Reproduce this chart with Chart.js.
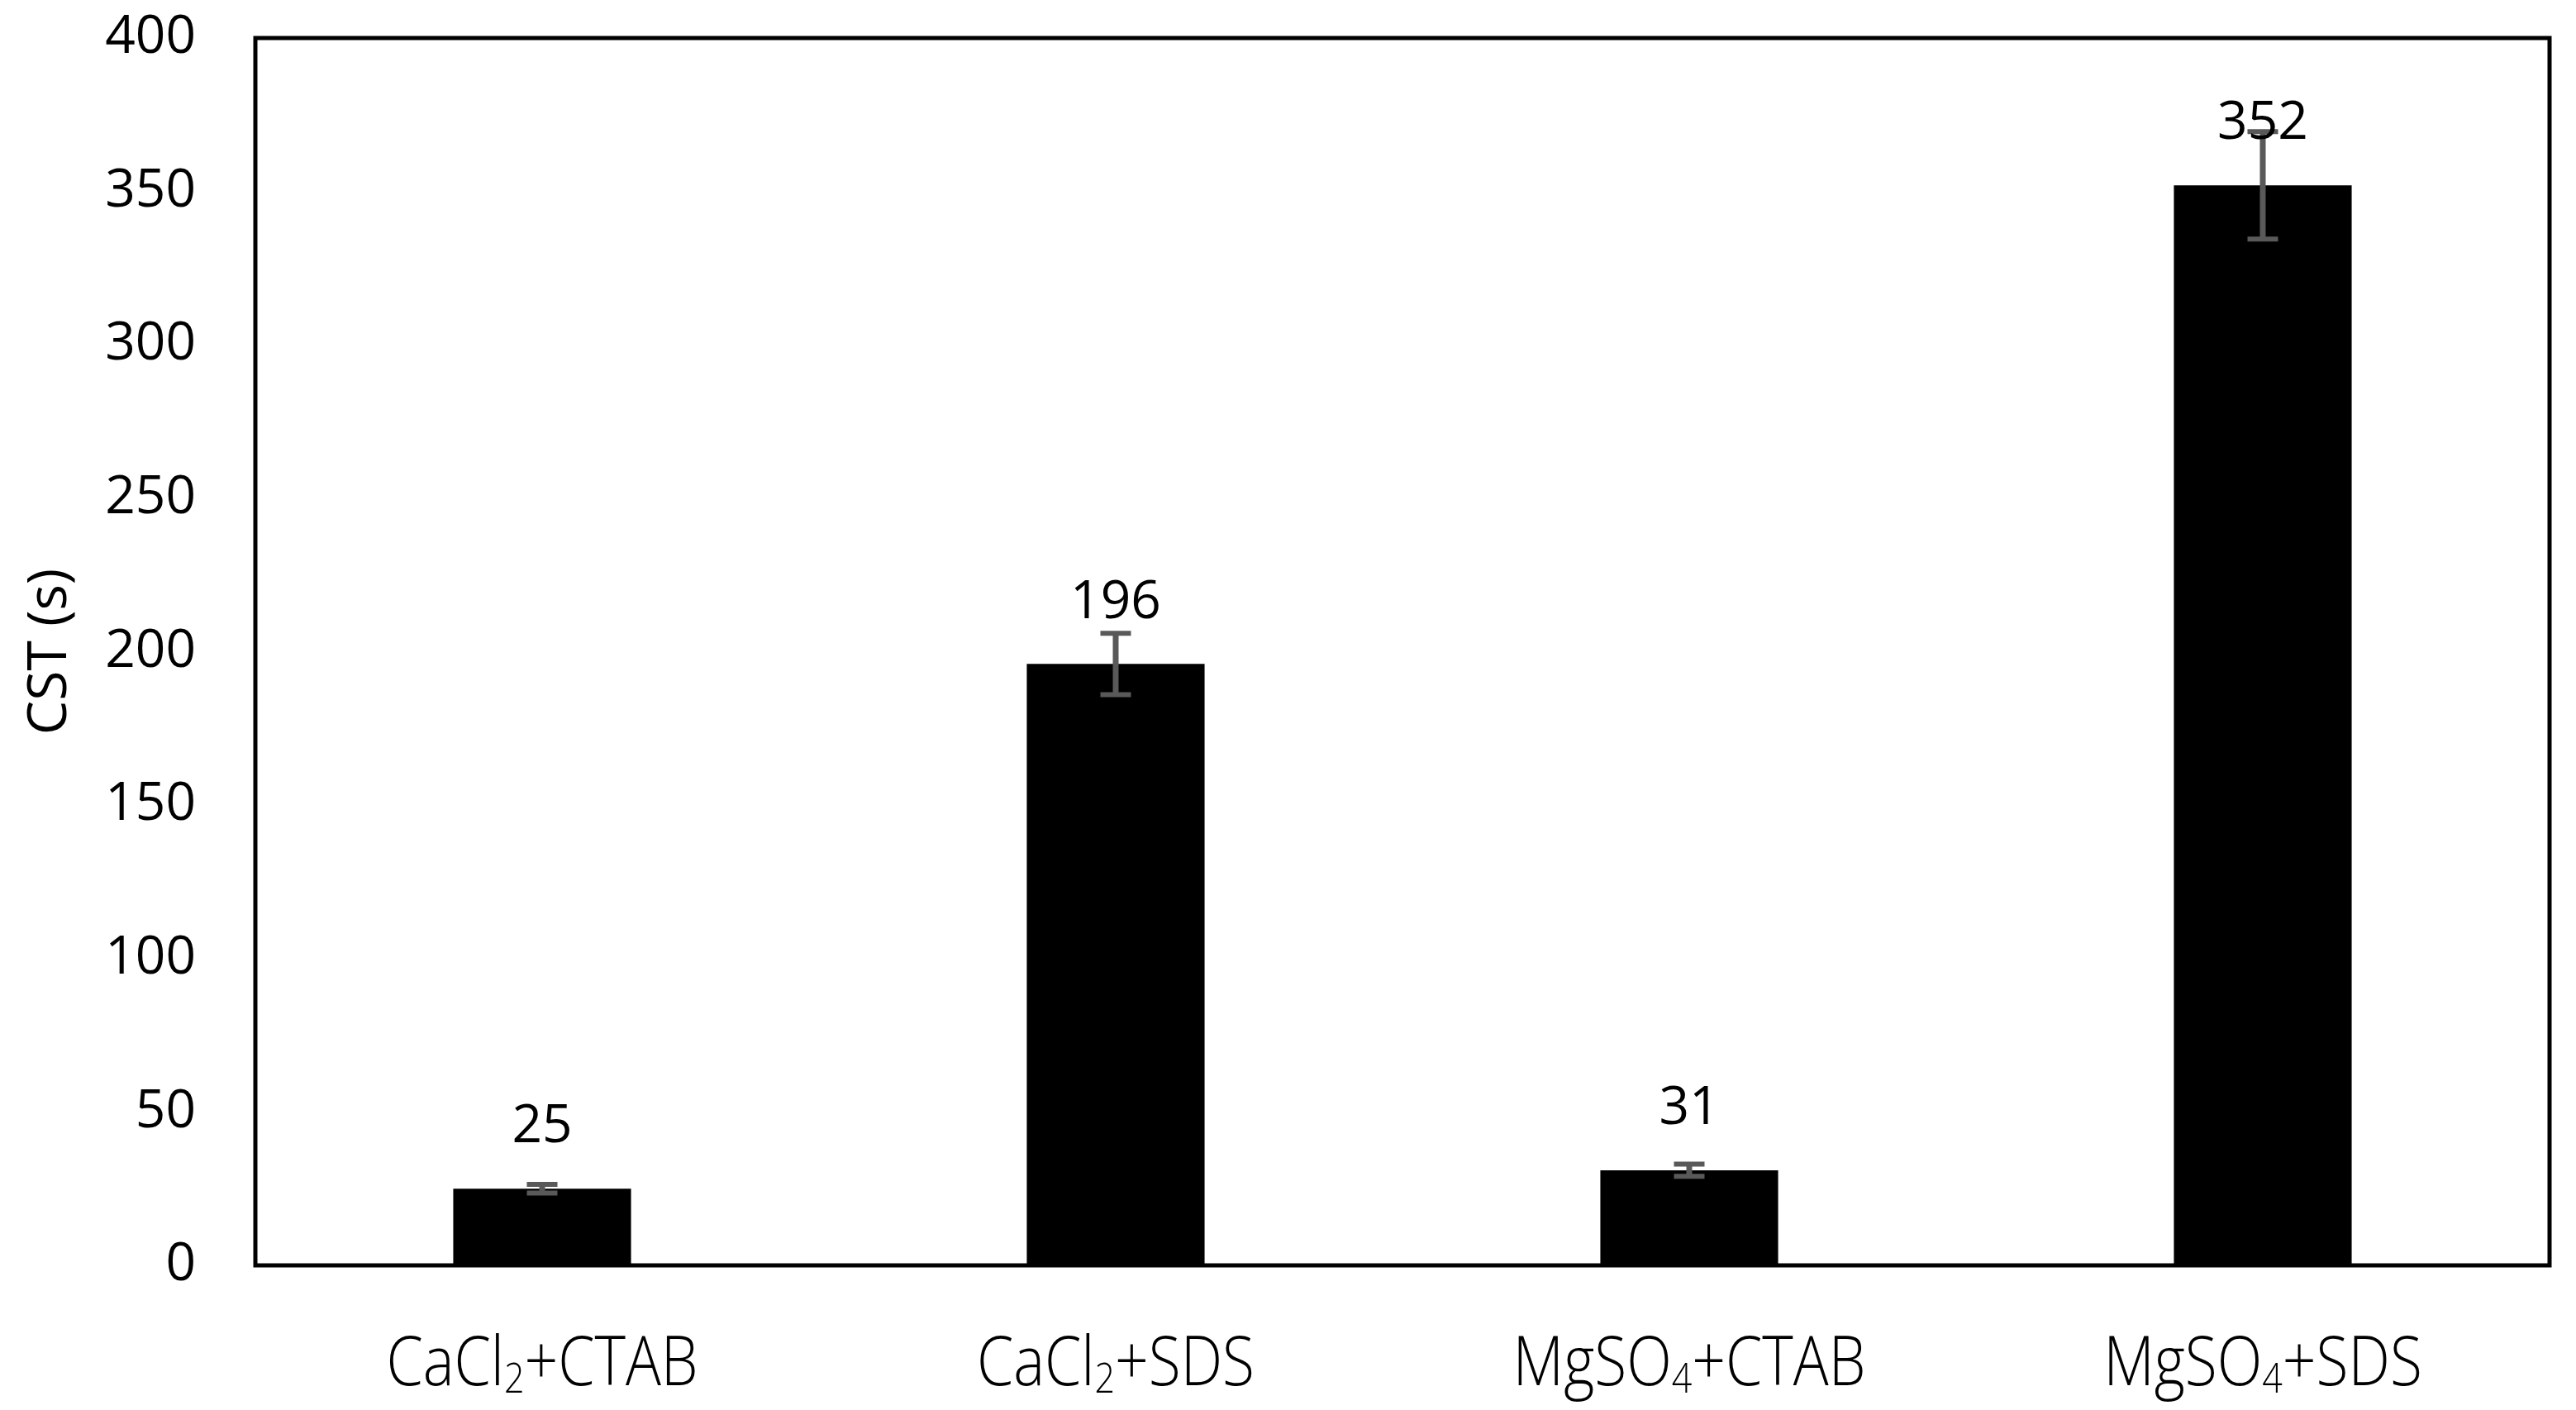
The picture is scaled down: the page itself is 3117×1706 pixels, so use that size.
<!DOCTYPE html>
<html>
<head>
<meta charset="utf-8">
<script src="https://cdn.jsdelivr.net/npm/chart.js@4.4.1/dist/chart.umd.min.js"></script>
<style>
  html, body { margin: 0; padding: 0; background: #ffffff; }
  #wrap { width: 3117px; height: 1706px; position: relative; }
</style>
</head>
<body>
<div id="wrap"><canvas id="c" width="3117" height="1706"></canvas></div>
<script>
const categories = ["CaCl\u2082+CTAB", "CaCl\u2082+SDS", "MgSO\u2084+CTAB", "MgSO\u2084+SDS"];
// label pieces: [base, subscript, rest]
const categoryParts = [["CaCl", "2", "+CTAB"], ["CaCl", "2", "+SDS"], ["MgSO", "4", "+CTAB"], ["MgSO", "4", "+SDS"]];
const cstValues = [25, 196, 31, 352];
const cstErrors = [1.4, 10, 2, 17.5];
const valueLabels = ["25", "196", "31", "352"];
const yTicks = [0, 50, 100, 150, 200, 250, 300, 350, 400];

const numFont = "'Open Sans', 'Noto Sans', sans-serif";
const catFamily = "'Open Sans', 'Noto Sans', sans-serif";

const errorBarPlugin = {
  id: 'errorBars',
  afterDatasetsDraw(chart) {
    const ctx = chart.ctx;
    const meta = chart.getDatasetMeta(0);
    const y = chart.scales.y;
    const xs = chart.scales.x;
    const a = chart.chartArea;
    ctx.save();
    // error bars
    ctx.strokeStyle = '#595959';
    meta.data.forEach((bar, i) => {
      const v = cstValues[i], e = cstErrors[i];
      const yTop = y.getPixelForValue(v + e);
      const yBot = y.getPixelForValue(v - e);
      const x = bar.x;
      const cap = 18.5;
      ctx.lineWidth = 7;
      ctx.beginPath();
      ctx.moveTo(x, yTop); ctx.lineTo(x, yBot);
      ctx.stroke();
      ctx.lineWidth = 6;
      ctx.beginPath();
      ctx.moveTo(x - cap, yTop); ctx.lineTo(x + cap, yTop);
      ctx.moveTo(x - cap, yBot); ctx.lineTo(x + cap, yBot);
      ctx.stroke();
    });
    // value labels
    ctx.fillStyle = '#000000';
    ctx.font = "64px " + numFont;
    ctx.textAlign = 'center';
    ctx.textBaseline = 'middle';
    meta.data.forEach((bar, i) => {
      ctx.fillText(valueLabels[i], bar.x, bar.y - 74);
    });
    // frame
    ctx.strokeStyle = '#000000';
    ctx.lineWidth = 5;
    ctx.strokeRect(a.left, a.top, a.right - a.left, a.bottom - a.top);
    // category labels (condensed, with subscripts)
    const mainSize = 83, subSize = 50;
    const mainFont = "300 " + mainSize + "px " + catFamily;
    const subFont = "300 " + subSize + "px " + catFamily;
    ctx.textAlign = 'left';
    ctx.textBaseline = 'alphabetic';
    categoryParts.forEach((parts, i) => {
      const cx = xs.getPixelForValue(i);
      const baseY = a.bottom + 145;
      ctx.font = mainFont;
      const w0 = ctx.measureText(parts[0]).width;
      const w2 = ctx.measureText(parts[2]).width;
      ctx.font = subFont;
      const w1 = ctx.measureText(parts[1]).width;
      const total = w0 + w1 + w2;
      ctx.save();
      ctx.translate(cx, baseY);
      ctx.scale(0.86, 1);
      let x = -total / 2;
      ctx.font = mainFont;
      ctx.fillText(parts[0], x, 0);
      x += w0;
      ctx.font = subFont;
      ctx.fillText(parts[1], x, 9);
      x += w1;
      ctx.font = mainFont;
      ctx.fillText(parts[2], x, 0);
      ctx.restore();
    });
    ctx.restore();
  }
};

new Chart(document.getElementById('c'), {
  type: 'bar',
  data: {
    labels: categories,
    datasets: [{
      label: 'CST (s)',
      data: cstValues,
      backgroundColor: '#000000',
      borderWidth: 0,
      barPercentage: 0.31,
      categoryPercentage: 1.0
    }]
  },
  options: {
    responsive: false,
    animation: false,
    devicePixelRatio: 1,
    layout: { padding: { top: 46, right: 32, left: 0, bottom: 0 } },
    plugins: {
      legend: { display: false },
      tooltip: { enabled: false },
      title: { display: false }
    },
    scales: {
      x: {
        grid: { display: false, drawTicks: false },
        border: { display: false },
        ticks: { display: false },
        afterFit(scale) {
          scale.height = 175;
          scale.paddingLeft = 0; scale.paddingRight = 0;
        }
      },
      y: {
        min: 0,
        max: 400,
        afterBuildTicks(scale) { scale.ticks = yTicks.map(v => ({ value: v })); },
        grid: { display: false, drawTicks: false },
        border: { display: false },
        ticks: {
          color: '#000000',
          padding: 72,
          font: { family: numFont, size: 64 }
        },
        title: {
          display: true,
          text: 'CST (s)',
          color: '#000000',
          font: { family: numFont, size: 66 },
          padding: { top: 22, bottom: 0 }
        },
        afterFit(scale) {
          scale.width = 309;
          scale.paddingTop = 0; scale.paddingBottom = 0;
        }
      }
    }
  },
  plugins: [errorBarPlugin]
});
</script>
</body>
</html>
